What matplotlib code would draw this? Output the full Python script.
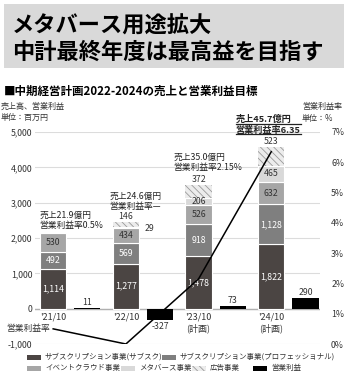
"""
中期経営計画 売上・営業利益グラフ
"""
import matplotlib
matplotlib.use('Agg')
import matplotlib.pyplot as plt
import matplotlib.patches as patches
from matplotlib.lines import Line2D
from matplotlib.ticker import FuncFormatter

plt.rcParams['font.family'] = ['Noto Sans CJK JP', 'DejaVu Sans']
plt.rcParams['hatch.linewidth'] = 0.6

# ---- data ----
periods = ["'21/10", "'22/10", "'23/10\n(計画)", "'24/10\n(計画)"]
subsc = [1114, 1277, 1478, 1822]        # サブスクリプション事業(サブスク)
professional = [492, 569, 918, 1128]    # サブスクリプション事業(プロフェッショナル)
event_cloud = [530, 434, 526, 632]      # イベントクラウド事業
metaverse = [0, 29, 206, 465]           # メタバース事業
ad = [0, 146, 372, 523]                 # 広告事業
op_profit = [11, -327, 73, 290]         # 営業利益
op_margin = [0.5, 0.0, 2.15, 6.35]      # 営業利益率(%)  '22/10 は赤字のため0%で描画
sales_notes = ['売上21.9億円\n営業利益率0.5%', '売上24.6億円\n営業利益率—',
               '売上35.0億円\n営業利益率2.15%', '売上45.7億円\n営業利益率6.35']

series = [
    ('サブスクリプション事業(サブスク)', subsc, '#4b4543', 'white'),
    ('サブスクリプション事業(プロフェッショナル)', professional, '#7f7f7f', 'white'),
    ('イベントクラウド事業', event_cloud, '#a6a6a6', '#333333'),
    ('メタバース事業', metaverse, '#d9d9d9', '#333333'),
    ('広告事業', ad, '#ececec', '#333333'),
]
HATCH = '\\\\\\\\\\'

W, H = 348, 382


def fx(px):
    return px / W


def fy(px):
    return 1 - px / H


fig = plt.figure(figsize=(W / 100, H / 100), dpi=100)

# title block
fig.patches.append(patches.Rectangle((fx(4), fy(68)), fx(340), 64 / H,
                                     transform=fig.transFigure,
                                     facecolor='#d9d9d9', edgecolor='none'))
fig.text(fx(12), fy(26), 'メタバース用途拡大', fontsize=16,
         fontweight='bold', va='center', ha='left')
fig.text(fx(12), fy(52), '中計最終年度は最高益を目指す', fontsize=16,
         fontweight='bold', va='center', ha='left')
fig.text(fx(4), fy(91), '■中期経営計画2022-2024の売上と営業利益目標',
         fontsize=8.3, fontweight='bold', va='center', ha='left')

fig.text(fx(1), fy(106), '売上高、営業利益', fontsize=5.8, va='center', color='#333333')
fig.text(fx(1), fy(117), '単位：百万円', fontsize=5.8, va='center', color='#333333')
fig.text(fx(302), fy(106), '営業利益率', fontsize=5.8, va='center', color='#333333')
fig.text(fx(302), fy(118), '単位：%', fontsize=5.8, va='center', color='#333333')

ax = fig.add_axes([fx(35), fy(344), 285 / W, 212 / H])
ax.set_xlim(-0.25, 3.67)
ax.set_ylim(-1000, 5000)
for s in ax.spines.values():
    s.set_visible(False)
ax.set_xticks([])
ax.set_yticks(range(-1000, 5001, 1000))
ax.yaxis.set_major_formatter(FuncFormatter(lambda v, p: f'{int(v):,}'))
ax.tick_params(axis='y', length=0, pad=2, labelsize=6.3, labelcolor='#333333')
ax.grid(axis='y', color='#dcdcdc', linewidth=0.8)
ax.set_axisbelow(True)
ax.axhline(0, color='#b0b0b0', linewidth=1.0, zorder=1)

xs = list(range(len(periods)))
bw = 0.36
bottoms = [0] * len(xs)
for name, vals, color, tcolor in series:
    hatch = HATCH if name == '広告事業' else None
    ec = '#9a9a9a' if hatch else 'white'
    lw = 0 if hatch else 0.8
    ax.bar(xs, vals, bw, bottom=bottoms, color=color, edgecolor=ec,
           linewidth=lw, hatch=hatch, zorder=2)
    for i, v in enumerate(vals):
        if v <= 0:
            continue
        if name == '広告事業':
            ax.annotate(f'{v:,}', (i, bottoms[i] + v), xytext=(0, 0.5),
                        textcoords='offset points', ha='center', va='bottom',
                        fontsize=6.3, color='#333333')
        elif v < 100:
            ax.annotate(f'{v:,}', (i + bw / 2, bottoms[i] + v / 2), xytext=(4, -1),
                        textcoords='offset points', ha='left', va='center',
                        fontsize=6.3, color='#333333')
        else:
            ax.text(i, bottoms[i] + v / 2, f'{v:,}', ha='center', va='center',
                    fontsize=6.3, color=tcolor, zorder=3)
    bottoms = [b + v for b, v in zip(bottoms, vals)]

# operating profit bars
op_x = [x + 0.47 for x in xs]
ax.bar(op_x, op_profit, bw, color='black', zorder=2)
for x, v in zip(op_x, op_profit):
    if v >= 0:
        ax.annotate(f'{v:,}', (x, v), xytext=(0, 1), textcoords='offset points',
                    ha='center', va='bottom', fontsize=6.3, color='#333333')
    else:
        ax.annotate(f'{v:,}', (x, v), xytext=(0, -1), textcoords='offset points',
                    ha='center', va='top', fontsize=6.3, color='#333333')

# period labels under the zero line
for x, lab in zip(xs, periods):
    ax.annotate(lab, (x, 0), xytext=(0, -3), textcoords='offset points',
                ha='center', va='top', fontsize=6.5, color='#333333',
                linespacing=1.2)

# sales notes (x shift from bar centre, offset above bar top in points)
note_pos = [(-0.19, 2.0), (-0.23, 8.0), (-0.35, 9.5), (-0.49, 9.0)]
note_texts = []
for i, (note, (dx, off)) in enumerate(zip(sales_notes, note_pos)):
    bold = i == len(sales_notes) - 1
    t = ax.annotate(note, (i + dx, bottoms[i]), xytext=(0, off),
                    textcoords='offset points', ha='left', va='bottom',
                    fontsize=6.6 if bold else 6.3,
                    fontweight='bold' if bold else 'normal', color='#222222',
                    linespacing=1.2, annotation_clip=False)
    note_texts.append(t)

# operating margin line (right axis)
ax2 = ax.twinx()
ax2.set_ylim(0, 7)
ax2.set_yticks(range(0, 8))
ax2.yaxis.set_major_formatter(FuncFormatter(lambda v, p: f'{int(v)}%'))
ax2.tick_params(axis='y', length=0, pad=8, labelsize=6.3, labelcolor='#333333')
for s in ax2.spines.values():
    s.set_visible(False)
ax2.plot(xs, op_margin, color='black', linewidth=1.1, zorder=5)
ax2.annotate('営業利益率', (xs[0], op_margin[0]), xytext=(-2, 0),
             textcoords='offset points', ha='right', va='center',
             fontsize=6.3, color='#333333', annotation_clip=False)

# underline for the final-year target
fig.canvas.draw()
renderer = fig.canvas.get_renderer()
bb = note_texts[-1].get_window_extent(renderer)
fw, fh = fig.bbox.width, fig.bbox.height
line_h = bb.height / 2
for k in range(2):
    y = bb.y0 + k * line_h + 0.5
    fig.add_artist(Line2D([bb.x0 / fw, bb.x1 / fw], [y / fh] * 2,
                          color='#222222', linewidth=0.9))

# legend
legend_rows = [
    [(fx(27), 0), (fx(162), 1)],
    [(fx(27), 2), (fx(121), 3), (fx(192), 4), (fx(253), 5)],
]
legend_y = [fy(357), fy(368)]
for row, y in zip(legend_rows, legend_y):
    for x, idx in row:
        if idx < len(series):
            name, _, color, _ = series[idx]
            hatch = HATCH if name == '広告事業' else None
        else:
            name, color, hatch = '営業利益', 'black', None
        fig.patches.append(patches.Rectangle((x, y - 2.5 / H), 14 / W, 5 / H,
                                             transform=fig.transFigure,
                                             facecolor=color, hatch=hatch,
                                             edgecolor='#9a9a9a' if hatch else 'none',
                                             linewidth=0))
        fig.text(x + 18 / W, y, name, fontsize=5.4, va='center', ha='left',
                 color='#333333')

fig.savefig('out.png', dpi=100)
